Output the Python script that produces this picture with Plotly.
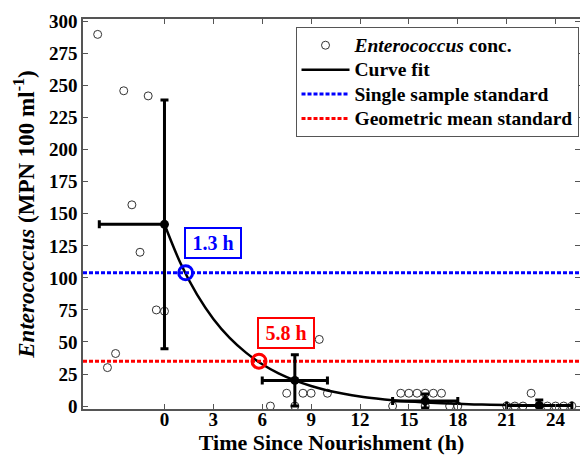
import plotly.graph_objects as go

# Individual sample concentrations (time h, MPN/100 ml)
obs_t = [-4.1, -2.5, -1.0, -2.0, -1.5, -0.5, 0.0, -3.0, -3.5,
         9.5, 7.5, 8.5, 9.0, 10.0, 6.5, 8.0,
         14.5, 15.0, 15.5, 16.0, 16.5, 17.0, 14.0, 16.0, 17.5, 18.0,
         22.5, 21.0, 21.5, 22.0, 23.0, 23.5, 24.0, 24.5, 25.0]
obs_c = [290, 246, 242, 157, 120, 75, 74, 41, 30,
         52, 10, 10, 10, 10, 0, 0,
         10, 10, 10, 10, 10, 10, 0, 0, 0, 0,
         10, 0, 0, 0, 0, 0, 0, 0, 0]

# Curve fit
fit_t = list(range(0, 26))
fit_c = [141.8, 111.0, 86.9, 68.0, 53.2, 41.7, 32.6, 25.5, 20.0, 15.6,
         12.2, 9.6, 7.5, 5.9, 4.6, 3.6, 2.8, 2.2, 1.7, 1.3,
         1.05, 0.82, 0.64, 0.5, 0.39, 0.31]

# Binned means with error bars
mean_t = [0, 8, 16, 23]
mean_c = [141.8, 20.0, 4.0, 0.5]
mean_err_y = [97, 20, 5.5, 4.2]
mean_err_x_minus = [4, 2, 2, 2]
mean_err_x_plus = [0, 2, 2, 2]

# Standards
single_std = 104
geo_std = 35
x_range = [-5, 25.5]

# Crossing points
cross_t = [1.3, 5.8]
cross_c = [104, 35]
cross_labels = ["1.3 h", "5.8 h"]
cross_colors = ["#0000ff", "#ff0000"]
label_pos_t = [2.98, 7.44]
label_pos_c = [127.6, 57]

legend_names = ["<i>Enterococcus</i> conc.", "Curve fit",
                "Single sample standard", "Geometric mean standard"]

FONT = "Liberation Serif, Times New Roman, serif"


def lg(name):
    return '<span style="font-size:19.5px">' + name + '</span>'


fig = go.Figure()

fig.add_trace(go.Scatter(
    x=obs_t, y=obs_c, mode="markers",
    marker=dict(symbol="circle-open", size=8, color="#333333", line=dict(width=1)),
    name=lg(legend_names[0])))

fig.add_trace(go.Scatter(
    x=fit_t, y=fit_c, mode="lines", line=dict(color="black", width=2.5, shape="spline"),
    name=lg(legend_names[1])))

fig.add_trace(go.Scatter(
    x=x_range, y=[single_std, single_std], mode="lines",
    line=dict(color="#0000ff", width=3, dash="4px,2px"),
    name=lg(legend_names[2])))

fig.add_trace(go.Scatter(
    x=x_range, y=[geo_std, geo_std], mode="lines",
    line=dict(color="#ff0000", width=3, dash="4px,2px"),
    name=lg(legend_names[3])))

fig.add_trace(go.Scatter(
    x=mean_t, y=mean_c, mode="markers",
    marker=dict(symbol="circle", size=9, color="black"),
    error_y=dict(type="data", array=mean_err_y, color="black", thickness=3, width=4),
    error_x=dict(type="data", symmetric=False, array=mean_err_x_plus,
                 arrayminus=mean_err_x_minus, color="black", thickness=3, width=4),
    showlegend=False))

for t, c, col in zip(cross_t, cross_c, cross_colors):
    fig.add_trace(go.Scatter(
        x=[t], y=[c], mode="markers",
        marker=dict(symbol="circle-open", size=14, color=col, line=dict(width=3)),
        showlegend=False))

for lab, t, c, col in zip(cross_labels, label_pos_t, label_pos_c, cross_colors):
    fig.add_annotation(x=t, y=c, text=lab, showarrow=False,
                       font=dict(family=FONT, size=20, color=col, weight="bold"),
                       width=48, height=22,
                       bordercolor=col, borderwidth=2, borderpad=3, bgcolor="white")

axis_common = dict(showline=True, linecolor="#555555", linewidth=1.5, mirror="ticks",
                   ticks="inside", ticklen=5, tickcolor="#555555", showgrid=False,
                   zeroline=False,
                   tickfont=dict(family=FONT, size=19, color="black", weight="bold"))

fig.update_xaxes(range=x_range, tickvals=[0, 3, 6, 9, 12, 15, 18, 21, 24],
                 ticklabelstandoff=-8,
                 title=dict(text="Time Since Nourishment (h)",
                            font=dict(family=FONT, size=22, color="black", weight="bold"),
                            standoff=2),
                 **axis_common)
fig.update_yaxes(range=[-2.3, 302], tickvals=list(range(0, 301, 25)),
                 title=dict(text="<i>Enterococcus</i> (MPN 100 ml<sup>-1</sup>)",
                            font=dict(family=FONT, size=23, color="black", weight="bold"),
                            standoff=8),
                 **axis_common)

fig.update_layout(
    width=580, height=462,
    margin=dict(l=83, r=0, t=19, b=53, autoexpand=False),
    plot_bgcolor="white", paper_bgcolor="white",
    font=dict(family=FONT, size=19, color="black", weight="bold"),
    legend=dict(x=0.997, y=0.9795, xanchor="right", yanchor="top",
                bgcolor="white", bordercolor="#555555", borderwidth=1,
                itemwidth=48, font=dict(family=FONT, size=16.5, color="black", weight="bold"),
                tracegroupgap=0),
)

fig.write_html("out.html")
